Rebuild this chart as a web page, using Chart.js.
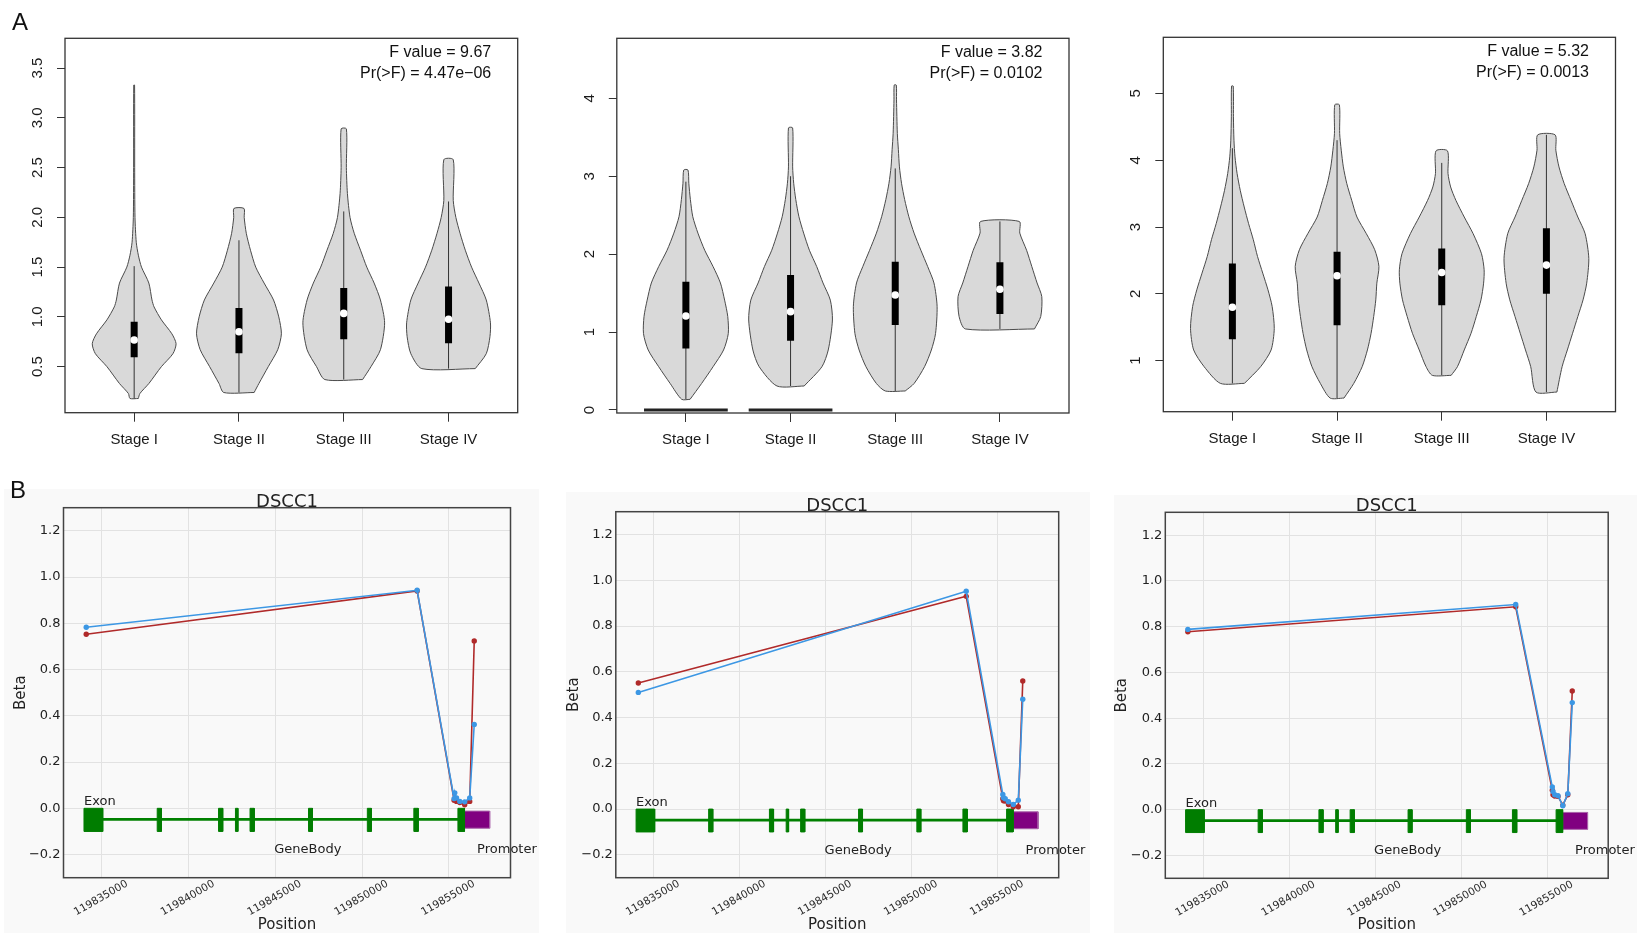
<!DOCTYPE html>
<html lang="en">
<head>
<meta charset="utf-8">
<title>DSCC1 expression by stage and promoter methylation</title>
<script src="https://cdn.jsdelivr.net/npm/chart.js@4.4.1/dist/chart.umd.min.js"></script>
<style>
  html, body { margin: 0; padding: 0; background: #ffffff; }
  #page { position: relative; width: 1645px; height: 933px; overflow: hidden; }
  #page canvas { position: absolute; }
  .mplbg { position: absolute; background: #f9f9f9; }
  .tag { position: absolute; z-index: 5; font: 24px/24px "Liberation Sans", Arial, sans-serif; color: #111; }
</style>
</head>
<body>
<div id="page">
  <div class="mplbg" style="left:4px; top:489px; width:535px; height:444px;"></div>
  <div class="mplbg" style="left:566px; top:492px; width:524px; height:441px;"></div>
  <div class="mplbg" style="left:1114px; top:495px; width:523px; height:438px;"></div>
  <canvas id="a1" width="540" height="460" style="left:0px; top:0px;"></canvas>
  <canvas id="a2" width="530" height="460" style="left:560px; top:0px;"></canvas>
  <canvas id="a3" width="545" height="460" style="left:1100px; top:0px;"></canvas>
  <canvas id="b1" width="540" height="473" style="left:0px; top:460px;"></canvas>
  <canvas id="b2" width="535" height="473" style="left:560px; top:460px;"></canvas>
  <canvas id="b3" width="545" height="473" style="left:1100px; top:460px;"></canvas>
  <div class="tag" style="left:12px; top:10px;">A</div>
  <div class="tag" style="left:10px; top:478px;">B</div>
</div>
<script>
/* ============================================================
   DATA - panel A (violins per stage)
   ============================================================ */
const stageNames = ["Stage I", "Stage II", "Stage III", "Stage IV"];
const stagePos = [1, 2, 3, 4];

// A1
const a1YTicks = [0.5, 1.0, 1.5, 2.0, 2.5, 3.0, 3.5];
const a1YText = ["0.5", "1.0", "1.5", "2.0", "2.5", "3.0", "3.5"];
const a1YRange = [0.037, 3.80];
const a1Levels = [
  [0.18, 0.23, 0.33, 0.50, 0.63, 0.73, 0.83, 0.97, 1.10, 1.17, 1.34, 1.50, 1.62, 1.75, 2.0, 2.5, 3.33],
  [0.24, 0.33, 0.50, 0.67, 0.83, 1.00, 1.17, 1.34, 1.50, 1.67, 1.84, 2.00, 2.09],
  [0.37, 0.50, 0.67, 0.94, 1.17, 1.34, 1.50, 1.67, 1.84, 2.00, 2.24, 2.50, 2.89],
  [0.48, 0.63, 0.80, 0.94, 1.17, 1.34, 1.50, 1.67, 1.84, 2.00, 2.17, 2.58]
];
const a1HalfW = [
  [0.04, 0.055, 0.14, 0.26, 0.37, 0.40, 0.36, 0.26, 0.19, 0.17, 0.14, 0.07, 0.04, 0.02, 0.008, 0.005, 0.004],
  [0.145, 0.19, 0.28, 0.37, 0.405, 0.38, 0.33, 0.24, 0.16, 0.11, 0.07, 0.05, 0.048],
  [0.18, 0.26, 0.35, 0.39, 0.35, 0.29, 0.22, 0.16, 0.10, 0.06, 0.035, 0.025, 0.025],
  [0.255, 0.36, 0.395, 0.40, 0.36, 0.29, 0.22, 0.16, 0.11, 0.07, 0.045, 0.045]
];
const a1Quart = [[0.594, 0.768, 0.952], [0.634, 0.85, 1.09], [0.775, 1.035, 1.29], [0.734, 0.976, 1.305]];
const a1Whisk = [[0.18, 1.51], [0.24, 1.77], [0.37, 2.06], [0.48, 2.16]];
const a1Anova = ["F value = 9.67", "Pr(>F) = 4.47e\u221206"];

// A2
const a2YTicks = [0, 1, 2, 3, 4];
const a2YText = ["0", "1", "2", "3", "4"];
const a2YRange = [-0.0385, 4.77];
const a2Levels = [
  [0.137, 0.34, 0.556, 0.77, 0.98, 1.2, 1.41, 1.63, 1.84, 2.05, 2.27, 2.48, 2.7, 2.91, 3.08],
  [0.308, 0.556, 0.77, 1.155, 1.41, 1.63, 1.84, 2.05, 2.27, 2.48, 2.7, 2.91, 3.12, 3.62],
  [0.244, 0.34, 0.556, 0.77, 0.98, 1.33, 1.63, 1.84, 2.05, 2.27, 2.48, 2.7, 2.91, 3.12, 3.34, 3.55, 3.98, 4.17],
  [1.04, 1.2, 1.455, 1.63, 1.84, 2.05, 2.27, 2.42]
];
const a2HalfW = [
  [0.04, 0.15, 0.26, 0.36, 0.405, 0.40, 0.37, 0.33, 0.26, 0.18, 0.115, 0.066, 0.043, 0.028, 0.02],
  [0.13, 0.30, 0.36, 0.40, 0.38, 0.31, 0.25, 0.18, 0.125, 0.08, 0.05, 0.03, 0.02, 0.02],
  [0.095, 0.18, 0.28, 0.345, 0.385, 0.40, 0.37, 0.31, 0.245, 0.18, 0.13, 0.09, 0.06, 0.04, 0.03, 0.02, 0.012, 0.01],
  [0.33, 0.39, 0.40, 0.355, 0.305, 0.255, 0.19, 0.185]
];
const a2Quart = [[0.79, 1.206, 1.647], [0.89, 1.262, 1.733], [1.09, 1.476, 1.904], [1.232, 1.549, 1.895]];
const a2Whisk = [[0.137, 2.93], [0.308, 3.0], [0.244, 3.10], [1.04, 2.42]];
const a2ZeroStages = [1, 2];   // flat bars at 0 under stage I and II
const a2Anova = ["F value = 3.82", "Pr(>F) = 0.0102"];

// A3
const a3YTicks = [1, 2, 3, 4, 5];
const a3YText = ["1", "2", "3", "4", "5"];
const a3YRange = [0.236, 5.84];
const a3Levels = [
  [0.66, 0.91, 1.16, 1.48, 1.81, 2.06, 2.31, 2.56, 2.81, 3.05, 3.3, 3.55, 3.8, 4.05, 4.3, 4.65, 5.11],
  [0.44, 0.66, 0.91, 1.16, 1.41, 1.66, 1.91, 2.16, 2.41, 2.66, 2.9, 3.15, 3.4, 3.65, 3.9, 4.15, 4.4, 4.83],
  [0.78, 0.91, 1.16, 1.41, 1.66, 1.91, 2.16, 2.36, 2.6, 2.9, 3.15, 3.4, 3.6, 3.8, 4.14],
  [0.53, 0.91, 1.16, 1.41, 1.66, 1.91, 2.16, 2.53, 2.9, 3.15, 3.4, 3.65, 3.9, 4.15, 4.38]
];
const a3HalfW = [
  [0.115, 0.27, 0.37, 0.40, 0.38, 0.34, 0.29, 0.24, 0.2, 0.155, 0.113, 0.075, 0.045, 0.025, 0.015, 0.01, 0.008],
  [0.066, 0.16, 0.24, 0.29, 0.325, 0.35, 0.37, 0.38, 0.40, 0.36, 0.28, 0.19, 0.14, 0.093, 0.06, 0.04, 0.025, 0.022],
  [0.09, 0.15, 0.215, 0.28, 0.33, 0.375, 0.40, 0.405, 0.38, 0.30, 0.215, 0.135, 0.085, 0.06, 0.055],
  [0.1, 0.15, 0.2, 0.25, 0.3, 0.35, 0.385, 0.405, 0.37, 0.30, 0.235, 0.17, 0.12, 0.09, 0.083]
];
const a3Quart = [[1.32, 1.80, 2.456], [1.53, 2.27, 2.63], [1.83, 2.32, 2.68], [2.0, 2.43, 2.98]];
const a3Whisk = [[0.66, 4.18], [0.44, 4.3], [0.78, 3.96], [0.53, 4.38]];
const a3Anova = ["F value = 5.32", "Pr(>F) = 0.0013"];

/* ============================================================
   DATA - panel B (DSCC1 methylation along the gene)
   ============================================================ */
const geneName = "DSCC1";
const regionText = ["Exon", "GeneBody", "Promoter"];
const bXRange = [119832790, 119858550];
const bXTicks = [119835000, 119840000, 119845000, 119850000, 119855000];
const bXText = ["119835000", "119840000", "119845000", "119850000", "119855000"];
const bYTicks = [-0.2, 0.0, 0.2, 0.4, 0.6, 0.8, 1.0, 1.2];
const bYText = ["\u22120.2", "0.0", "0.2", "0.4", "0.6", "0.8", "1.0", "1.2"];
const bYRange = [-0.3, 1.3];

const exonStart = [119833970, 119838190, 119841725, 119842700, 119843540, 119846910, 119850300, 119852980, 119855520];
const exonEnd   = [119835050, 119838430, 119841965, 119842840, 119843780, 119847140, 119850530, 119853230, 119855900];
const promoterSpan = [119855900, 119857350];
const exonBand = [0.0, -0.1];
const promoterBand = [-0.012, -0.086];
const geneLineY = -0.048;

const probePos = [119834100, 119853170, 119855300, 119855340, 119855440, 119855630, 119855910, 119856200, 119856460];
const b1Red  = [0.753, 0.940, 0.035, 0.040, 0.030, 0.025, 0.015, 0.030, 0.724];
const b1Blue = [0.783, 0.943, 0.042, 0.067, 0.045, 0.030, 0.028, 0.045, 0.363];
const b2Red  = [0.551, 0.930, 0.045, 0.036, 0.035, 0.020, 0.010, 0.010, 0.560];
const b2Blue = [0.510, 0.952, 0.064, 0.050, 0.045, 0.032, 0.020, 0.039, 0.480];
const b3Red  = [0.778, 0.887, 0.085, 0.065, 0.060, 0.058, 0.020, 0.065, 0.519];
const b3Blue = [0.788, 0.897, 0.099, 0.080, 0.065, 0.061, 0.017, 0.070, 0.468];

/* ============================================================
   HELPERS / PLUGINS
   ============================================================ */
const R_FONT = '"Liberation Sans", Arial, sans-serif';
const MPL_FONT = '"DejaVu Sans", sans-serif';

const framePlugin = {
  id: "frame",
  afterDraw(chart, args, opts) {
    const { ctx, chartArea: a } = chart;
    ctx.save();
    ctx.strokeStyle = opts.color;
    ctx.lineWidth = opts.width;
    ctx.strokeRect(a.left, a.top, a.right - a.left, a.bottom - a.top);
    ctx.restore();
  }
};

const anovaPlugin = {
  id: "anova",
  afterDraw(chart, args, opts) {
    if (!opts.lines) return;
    const { ctx, chartArea: a } = chart;
    ctx.save();
    ctx.font = "16px " + R_FONT;
    ctx.fillStyle = "#111";
    ctx.textAlign = "right";
    ctx.textBaseline = "middle";
    ctx.fillText(opts.lines[0], a.right - 26.5, a.top + 14);
    ctx.fillText(opts.lines[1], a.right - 26.5, a.top + 35.5);
    ctx.restore();
  }
};

const geneTextPlugin = {
  id: "geneText",
  afterDraw(chart) {
    const { ctx, chartArea: a, scales: { x, y } } = chart;
    ctx.save();
    ctx.fillStyle = "#222";
    ctx.textBaseline = "alphabetic";
    ctx.font = "18px " + MPL_FONT;
    ctx.textAlign = "center";
    ctx.fillText(geneName, (a.left + a.right) / 2, a.top - 1);
    ctx.font = "13px " + MPL_FONT;
    ctx.textAlign = "left";
    ctx.fillText(regionText[0], x.getPixelForValue(exonStart[0]), y.getPixelForValue(0.013));
    ctx.fillText(regionText[1], x.getPixelForValue((exonStart[0] + promoterSpan[0]) / 2), y.getPixelForValue(-0.195));
    ctx.fillText(regionText[2], x.getPixelForValue((promoterSpan[0] + promoterSpan[1]) / 2), y.getPixelForValue(-0.195));
    ctx.restore();
  }
};

// violin outline + whisker + box + median for every stage
function violinSets(levels, halfW, quart, whisk) {
  const sets = [];
  stagePos.forEach((cx, i) => {
    const right = levels[i].map((y, k) => ({ x: cx + halfW[i][k], y }));
    const left = levels[i].map((y, k) => ({ x: cx - halfW[i][k], y })).reverse();
    sets.push({ data: right.concat(left, [right[0]]), fill: "shape", backgroundColor: "#d9d9d9",
      borderColor: "#4a4a4a", borderWidth: 1, pointRadius: 0, tension: 0.25, order: 4 });
    sets.push({ data: [{ x: cx, y: whisk[i][0] }, { x: cx, y: whisk[i][1] }],
      borderColor: "#333", borderWidth: 1, pointRadius: 0, order: 3 });
    sets.push({ data: [{ x: cx, y: quart[i][0] }, { x: cx, y: quart[i][2] }],
      borderColor: "#000", borderWidth: 7, borderCapStyle: "butt", pointRadius: 0, order: 2 });
    sets.push({ data: [{ x: cx, y: quart[i][1] }], showLine: false, pointRadius: 3.8,
      pointBackgroundColor: "#fff", pointBorderColor: "#fff", pointBorderWidth: 0, order: 1 });
  });
  return sets;
}

function makeViolinChart(id, geo, p) {
  let sets = violinSets(p.levels, p.halfW, p.quart, p.whisk);
  (p.zeroStages || []).forEach((cx) => {
    sets.push({ data: [{ x: cx - 0.4, y: 0 }, { x: cx + 0.4, y: 0 }],
      borderColor: "#222", borderWidth: 3, pointRadius: 0, order: 2 });
  });
  return new Chart(document.getElementById(id), {
    type: "line",
    data: { datasets: sets },
    options: {
      responsive: false, animation: false, devicePixelRatio: 1, events: [],
      layout: { padding: geo.pad },
      plugins: {
        legend: { display: false }, tooltip: { enabled: false },
        frame: { color: "#333", width: 1.3 },
        anova: { lines: p.anova }
      },
      scales: {
        x: {
          type: "linear", min: 0.34, max: 4.66,
          afterBuildTicks: (ax) => { ax.ticks = stagePos.map((v) => ({ value: v })); },
          afterFit: (ax) => { ax.height = geo.xH; ax.paddingLeft = 0; ax.paddingRight = 0; },
          grid: { drawOnChartArea: false, drawTicks: true, tickLength: 9, color: "#333" },
          border: { display: false },
          ticks: { autoSkip: false, minRotation: 0, maxRotation: 0, padding: 9.3, color: "#1a1a1a",
            font: { family: R_FONT, size: 15 }, callback: (v, i) => stageNames[i] }
        },
        y: {
          type: "linear", min: p.yRange[0], max: p.yRange[1],
          afterBuildTicks: (ax) => { ax.ticks = p.yTicks.map((v) => ({ value: v })); },
          afterFit: (ax) => { ax.width = geo.yW; ax.paddingTop = 0; ax.paddingBottom = 0; },
          grid: { drawOnChartArea: false, drawTicks: true, tickLength: 8, color: "#333" },
          border: { display: false },
          ticks: { minRotation: 90, maxRotation: 90, crossAlign: "center", padding: geo.yPad, color: "#1a1a1a",
            font: { family: R_FONT, size: 15 }, callback: (v, i) => p.yText[i] }
        }
      }
    },
    plugins: [framePlugin, anovaPlugin]
  });
}

function rect(x0, x1, band, color, edge) {
  return { data: [{ x: x0, y: band[0] }, { x: x1, y: band[0] }, { x: x1, y: band[1] }, { x: x0, y: band[1] }, { x: x0, y: band[0] }],
    fill: "shape", backgroundColor: color, borderColor: edge, borderWidth: 1, pointRadius: 0, tension: 0, order: 5 };
}

function makeMethylChart(id, geo, red, blue) {
  const sets = [];
  sets.push({ data: [{ x: exonStart[0], y: geneLineY }, { x: promoterSpan[0], y: geneLineY }],
    borderColor: "#008000", borderWidth: 2.7, pointRadius: 0, order: 6 });
  exonStart.forEach((s, i) => sets.push(rect(s, exonEnd[i], exonBand, "#007d00", "#007d00")));
  sets.push(rect(promoterSpan[0], promoterSpan[1], promoterBand, "#800080", "#a860a8"));
  sets.push({ data: probePos.map((x, i) => ({ x, y: red[i] })), borderColor: "#b02a2a", backgroundColor: "#b02a2a",
    pointBackgroundColor: "#b02a2a", pointBorderWidth: 0, pointRadius: 2.7, borderWidth: 1.6, order: 2 });
  sets.push({ data: probePos.map((x, i) => ({ x, y: blue[i] })), borderColor: "#3c97e4", backgroundColor: "#3c97e4",
    pointBackgroundColor: "#3c97e4", pointBorderWidth: 0, pointRadius: 2.7, borderWidth: 1.6, order: 1 });

  return new Chart(document.getElementById(id), {
    type: "line",
    data: { datasets: sets },
    options: {
      responsive: false, animation: false, devicePixelRatio: 1, events: [],
      layout: { padding: geo.pad },
      plugins: { legend: { display: false }, tooltip: { enabled: false }, frame: { color: "#444", width: 1.5 } },
      scales: {
        x: {
          type: "linear", min: bXRange[0], max: bXRange[1],
          afterBuildTicks: (ax) => { ax.ticks = bXTicks.map((v) => ({ value: v })); },
          afterFit: (ax) => { ax.height = geo.xH; ax.paddingLeft = 0; ax.paddingRight = 0; },
          grid: { drawOnChartArea: true, drawTicks: false, color: "#e2e2e2" },
          border: { display: false },
          ticks: { autoSkip: false, minRotation: 30, maxRotation: 30, labelOffset: 25.2, padding: 0, color: "#2a2a2a",
            font: { family: MPL_FONT, size: 10.5 }, callback: (v, i) => bXText[i] },
          title: { display: true, text: "Position", color: "#222", font: { family: MPL_FONT, size: 15, lineHeight: 1 },
            padding: { top: 0, bottom: 0.5 } }
        },
        y: {
          type: "linear", min: bYRange[0], max: bYRange[1],
          afterBuildTicks: (ax) => { ax.ticks = bYTicks.map((v) => ({ value: v })); },
          afterFit: (ax) => { ax.width = geo.yW; ax.paddingTop = 0; ax.paddingBottom = 0; },
          grid: { drawOnChartArea: true, drawTicks: false, color: "#e2e2e2" },
          border: { display: false },
          ticks: { padding: 3, color: "#222", font: { family: MPL_FONT, size: 13 }, callback: (v, i) => bYText[i] },
          title: { display: true, text: "Beta", color: "#222", font: { family: MPL_FONT, size: 15, lineHeight: 1.2 },
            padding: { top: geo.titlePad, bottom: 0 } }
        }
      }
    },
    plugins: [framePlugin, geneTextPlugin]
  });
}

/* ============================================================
   BUILD
   ============================================================ */
makeViolinChart("a1", { pad: { left: 0, top: 38.3, right: 22.3, bottom: 0 }, yW: 65, xH: 47.3, yPad: 8.6 },
  { levels: a1Levels, halfW: a1HalfW, quart: a1Quart, whisk: a1Whisk, yTicks: a1YTicks, yText: a1YText, yRange: a1YRange, anova: a1Anova });
makeViolinChart("a2", { pad: { left: 0, top: 38.3, right: 21, bottom: 0 }, yW: 56.8, xH: 47, yPad: 14.8 },
  { levels: a2Levels, halfW: a2HalfW, quart: a2Quart, whisk: a2Whisk, yTicks: a2YTicks, yText: a2YText, yRange: a2YRange, anova: a2Anova, zeroStages: a2ZeroStages });
makeViolinChart("a3", { pad: { left: 0, top: 37.3, right: 29.5, bottom: 0 }, yW: 63.3, xH: 48.3, yPad: 14.8 },
  { levels: a3Levels, halfW: a3HalfW, quart: a3Quart, whisk: a3Whisk, yTicks: a3YTicks, yText: a3YText, yRange: a3YRange, anova: a3Anova });

makeMethylChart("b1", { pad: { left: 0, top: 47.7, right: 29.5, bottom: 0 }, yW: 63.5, xH: 55.3, titlePad: 12.4 }, b1Red, b1Blue);
makeMethylChart("b2", { pad: { left: 0, top: 51.7, right: 36.3, bottom: 0 }, yW: 55.8, xH: 55.3, titlePad: 4.8 }, b2Red, b2Blue);
makeMethylChart("b3", { pad: { left: 0, top: 52.3, right: 36.8, bottom: 0 }, yW: 65.3, xH: 54.7, titlePad: 13.6 }, b3Red, b3Blue);
</script>
</body>
</html>
